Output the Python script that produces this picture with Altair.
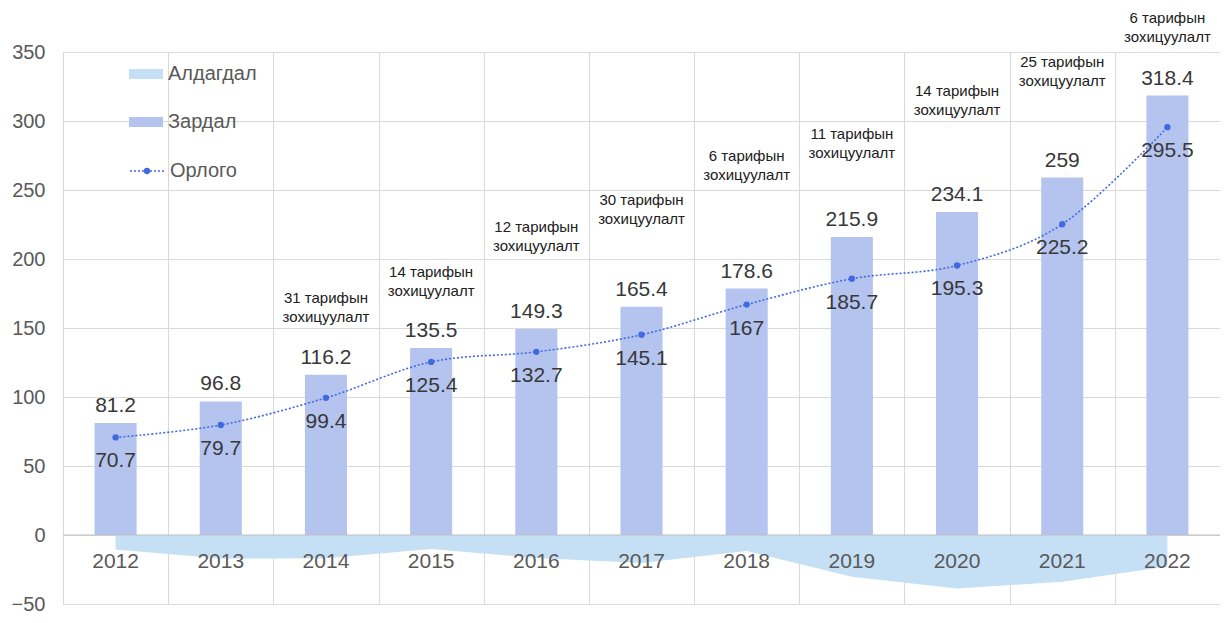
import altair as alt
import pandas as pd

years = ["2012", "2013", "2014", "2015", "2016", "2017", "2018", "2019", "2020", "2021", "2022"]
expense = [81.2, 96.8, 116.2, 135.5, 149.3, 165.4, 178.6, 215.9, 234.1, 259, 318.4]
revenue = [70.7, 79.7, 99.4, 125.4, 132.7, 145.1, 167, 185.7, 195.3, 225.2, 295.5]
deficit = [-10.5, -17.1, -16.8, -10.1, -16.6, -20.3, -11.6, -30.2, -38.8, -33.8, -22.9]

note_years = ["2014", "2015", "2016", "2017", "2018", "2019", "2020", "2021", "2022"]
note_counts = [31, 14, 12, 30, 6, 11, 14, 25, 6]
note_levels = [165, 184, 216, 236, 268, 284, 315, 336, 368]

FONT = "Liberation Sans"
BAR = "#b4c4ef"
AREA = "#c5dff4"
LINE = "#4169e1"
TXT = "#383838"
AX = "#595959"
GRID = "#d9d9d9"

df = pd.DataFrame({
    "year": years,
    "expense": expense,
    "revenue": revenue,
    "deficit": deficit,
    "s_exp": ["Зардал"] * len(years),
    "s_rev": ["Орлого"] * len(years),
    "s_pt": ["Орлого "] * len(years),
    "s_def": ["Алдагдал"] * len(years),
    "zero": [0] * len(years),
})
notes = pd.DataFrame({
    "year": note_years,
    "level": note_levels,
    "label": [f"{c} тарифын\nзохицуулалт" for c in note_counts],
})

x_enc = alt.X(
    "year:N", sort=years,
    scale=alt.Scale(domain=years, paddingInner=0, paddingOuter=0),
    axis=alt.Axis(labels=False, ticks=False, domain=False, grid=True,
                  gridColor=GRID, tickBand="extent", title=None),
)
y_scale = alt.Scale(domain=[-50, 350], nice=False, zero=False)
y_axis = alt.Axis(values=list(range(-50, 351, 50)), labelFontSize=20, labelColor=AX,
                  ticks=False, domain=False, gridColor=GRID, labelPadding=18,
                  title=None, labelFont=FONT)

rect_path = "M-1.7,-0.5H1.7V0.5H-1.7Z"


def rect_legend(y):
    return alt.Legend(orient="none", legendX=73, legendY=y, title=None,
                      symbolType=rect_path, symbolSize=400,
                      labelFontSize=20, labelColor=AX, labelFont=FONT,
                      labelOffset=12, symbolStrokeWidth=0)


base = alt.Chart(df)

area = base.mark_area(opacity=1).encode(
    x=x_enc,
    y=alt.Y("deficit:Q", scale=y_scale, axis=y_axis),
    y2="zero:Q",
    color=alt.Color("s_def:N", scale=alt.Scale(domain=["Алдагдал"], range=[AREA]),
                    legend=rect_legend(12)),
)

bars = base.mark_bar(width=alt.RelativeBandSize(0.4)).encode(
    x=x_enc,
    y=alt.Y("expense:Q", scale=y_scale, axis=y_axis),
    color=alt.Color("s_exp:N", scale=alt.Scale(domain=["Зардал"], range=[BAR]),
                    legend=rect_legend(60)),
)

zero_rule = alt.Chart(pd.DataFrame({"z": [0]})).mark_rule(color="#bfbfbf", strokeWidth=1).encode(
    y=alt.Y("z:Q", scale=y_scale, axis=y_axis)
)

line = base.mark_line(
    strokeDash=[2, 2], strokeWidth=1.6, interpolate="cardinal",
).encode(
    x=x_enc,
    y=alt.Y("revenue:Q", scale=y_scale, axis=y_axis),
    color=alt.Color("s_rev:N", scale=alt.Scale(domain=["Орлого"], range=[LINE]),
                    legend=alt.Legend(orient="none", legendX=66, legendY=101, title=None,
                                      symbolType="stroke", symbolSize=1156,
                                      symbolDash=[2, 2], symbolStrokeWidth=1.6,
                                      labelFontSize=20, labelColor=AX, labelFont=FONT,
                                      labelOffset=5)),
)

points = base.mark_point(filled=True, size=40, opacity=1).encode(
    x=x_enc,
    y=alt.Y("revenue:Q", scale=y_scale, axis=y_axis),
    color=alt.Color("s_pt:N", scale=alt.Scale(domain=["Орлого "], range=[LINE]),
                    legend=alt.Legend(orient="none", legendX=80, legendY=115, title=None,
                                      symbolType="circle", symbolSize=40,
                                      symbolOpacity=1,
                                      labelFontSize=1, labelOpacity=0)),
)

bar_labels = base.mark_text(fontSize=21, color=TXT, font=FONT, baseline="middle", dy=-17).encode(
    x=x_enc,
    y=alt.Y("expense:Q", scale=y_scale, axis=y_axis),
    text=alt.Text("expense:Q"),
)

line_labels = base.mark_text(fontSize=21, color=TXT, font=FONT, baseline="middle", dy=24).encode(
    x=x_enc,
    y=alt.Y("revenue:Q", scale=y_scale, axis=y_axis),
    text=alt.Text("revenue:Q"),
)

year_labels = base.mark_text(fontSize=21, color=AX, font=FONT, baseline="middle", dy=27).encode(
    x=x_enc,
    y=alt.Y("zero:Q", scale=y_scale, axis=y_axis),
    text="year:N",
)

note_text = alt.Chart(notes).mark_text(
    fontSize=15, color="#202020", font=FONT, baseline="middle", lineBreak="\n",
    lineHeight=19, dy=-9.5
).encode(
    x=x_enc,
    y=alt.Y("level:Q", scale=y_scale, axis=y_axis),
    text="label:N",
)

chart = alt.layer(
    area, bars, zero_rule, line, points, bar_labels, line_labels, year_labels, note_text
).resolve_scale(color="independent").resolve_legend(color="independent").properties(
    width=1157, height=552,
    autosize=alt.AutoSizeParams(type="none"),
    padding={"left": 55, "top": 44, "right": 0, "bottom": 11},
).configure_view(stroke=GRID, strokeWidth=1).configure(font=FONT)

chart.save("out.html", embed_options={"renderer": "svg", "actions": False})
